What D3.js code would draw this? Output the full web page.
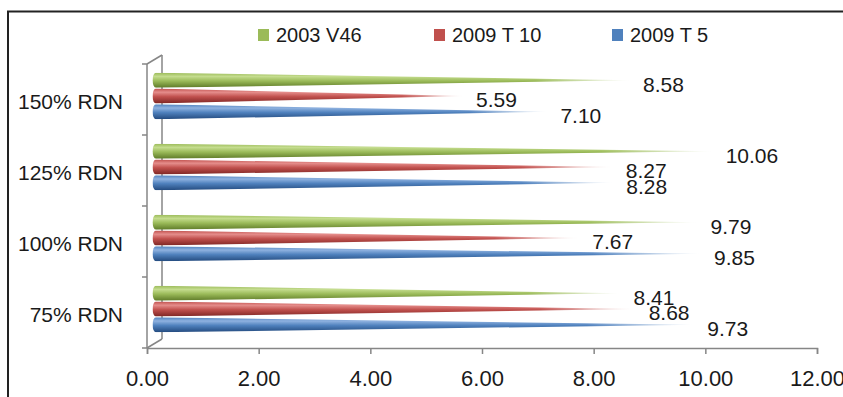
<!DOCTYPE html>
<html>
<head>
<meta charset="utf-8">
<script src="https://cdn.jsdelivr.net/npm/d3@7"></script>
<style>
  body { margin: 0; background: #fff; }
  text { font-family: "Liberation Sans", Arial, sans-serif; fill: #1a1a1a; }
</style>
</head>
<body>
<div id="chart"></div>
<script>
const categories = ["150% RDN", "125% RDN", "100% RDN", "75% RDN"];
const seriesNames = ["2003 V46", "2009 T 10", "2009 T 5"];
const v46 = [8.58, 10.06, 9.79, 8.41];
const t10 = [5.59, 8.27, 7.67, 8.68];
const t5 = [7.10, 8.28, 9.85, 9.73];
const xTicks = [0, 2, 4, 6, 8, 10, 12];

const seriesValues = [v46, t10, t5];
const colors = [
    { light: "#c4dc8e", mid: "#9bbb59", dark: "#5e7a28" },
    { light: "#e58d8b", mid: "#c0504d", dark: "#7e2624" },
    { light: "#8fb2e0", mid: "#4f81bd", dark: "#234a7e" }
];

const W = 843, H = 397;
const depthX = 15, depthY = -9;

const svg = d3.select("#chart").append("svg")
    .attr("width", W)
    .attr("height", H);

// outer chart border (runs off the right / bottom)
svg.append("rect")
    .attr("x", 8).attr("y", 11.5)
    .attr("width", 900).attr("height", 500)
    .attr("fill", "none")
    .attr("stroke", "#222")
    .attr("stroke-width", 2);

const x = d3.scaleLinear().domain([0, 12]).range([147, 817]);
const y0 = d3.scaleBand().domain(categories).range([64, 348]);
const y1 = d3.scaleBand().domain(seriesNames)
    .range([0, y0.bandwidth()])
    .paddingOuter(0.75);

const defs = svg.append("defs");
colors.forEach((c, i) => {
    const g = defs.append("linearGradient")
        .attr("id", "grad" + i)
        .attr("x1", 0).attr("y1", 0).attr("x2", 0).attr("y2", 1);
    g.append("stop").attr("offset", "0%").attr("stop-color", c.mid);
    g.append("stop").attr("offset", "25%").attr("stop-color", c.light);
    g.append("stop").attr("offset", "55%").attr("stop-color", c.mid);
    g.append("stop").attr("offset", "100%").attr("stop-color", c.dark);
});
const fade = defs.append("linearGradient").attr("id", "fade");
fade.append("stop").attr("offset", "0%").attr("stop-color", "#fff");
fade.append("stop").attr("offset", "80%").attr("stop-color", "#fff");
fade.append("stop").attr("offset", "100%").attr("stop-color", "#000");
defs.append("mask")
    .attr("id", "tipFade")
    .attr("maskContentUnits", "objectBoundingBox")
    .append("rect")
    .attr("width", 1).attr("height", 1)
    .attr("fill", "url(#fade)");

// 3D walls
const axisColor = "#868686";
const walls = svg.append("g").attr("stroke", axisColor).attr("stroke-width", 1.5).attr("fill", "none");
walls.append("line")
    .attr("x1", x(0) + depthX).attr("x2", x(0) + depthX)
    .attr("y1", 64 + depthY).attr("y2", 348 + depthY);
walls.append("line")
    .attr("x1", x(0)).attr("x2", x(0) + depthX)
    .attr("y1", 64).attr("y2", 64 + depthY);
walls.append("line")
    .attr("x1", x(0)).attr("x2", x(0) + depthX)
    .attr("y1", 348).attr("y2", 348 + depthY);
walls.append("line")
    .attr("x1", x(0)).attr("x2", x(0))
    .attr("y1", 64).attr("y2", 348);

// category ticks
const bounds = categories.map(c => y0(c)).concat([y0.range()[1]]);
walls.selectAll(".ctick")
    .data(bounds)
    .enter()
    .append("line")
    .attr("x1", x(0) - 5).attr("x2", x(0))
    .attr("y1", d => d).attr("y2", d => d);

svg.selectAll(".cat")
    .data(categories)
    .enter()
    .append("text")
    .attr("x", 123)
    .attr("y", d => y0(d) + y0.bandwidth() / 2 + 2)
    .attr("dy", "0.35em")
    .attr("text-anchor", "end")
    .style("font-size", "21px")
    .text(d => d);

// x axis
const xAxis = svg.append("g")
    .attr("transform", "translate(0,348)")
    .call(d3.axisBottom(x).tickValues(xTicks).tickSize(6).tickPadding(16).tickFormat(d3.format(".2f")));
xAxis.select(".domain").attr("stroke", axisColor).attr("stroke-width", 1.5);
xAxis.selectAll(".tick line").attr("stroke", axisColor).attr("stroke-width", 1.5);
xAxis.selectAll(".tick text")
    .style("font-size", "22px")
    .style("font-family", "Liberation Sans, Arial, sans-serif")
    .attr("fill", "#1a1a1a");

// cones
const r = 7.5;
const shiftX = 7, shiftY = -3.5;
seriesNames.forEach((s, i) => {
    const g = svg.append("g");
    g.selectAll("path")
        .data(seriesValues[i])
        .enter()
        .append("path")
        .attr("d", (v, j) => {
            const cy = y0(categories[j]) + y1(s) + y1.bandwidth() / 2 + shiftY;
            const bx = x(0) + 9;
            const tx = x(v) + shiftX - 2;
            return `M${bx},${cy - r} L${tx},${cy} L${bx},${cy + r} A3.5,${r} 0 0 1 ${bx},${cy - r} Z`;
        })
        .attr("fill", `url(#grad${i})`)
        .attr("mask", "url(#tipFade)");

    g.selectAll("text")
        .data(seriesValues[i])
        .enter()
        .append("text")
        .attr("x", v => x(v) + 17)
        .attr("y", (v, j) => y0(categories[j]) + y1(s) + y1.bandwidth() / 2 + shiftY + 4)
        .attr("dy", "0.35em")
        .style("font-size", "21px")
        .text(v => v.toFixed(2));
});

// legend
const legendX = [258, 434, 612];
const legend = svg.append("g");
seriesNames.forEach((s, i) => {
    legend.append("rect")
        .attr("x", legendX[i]).attr("y", 29)
        .attr("width", 11).attr("height", 12)
        .attr("fill", colors[i].mid);
    legend.append("text")
        .attr("x", legendX[i] + 18)
        .attr("y", 35)
        .attr("dy", "0.35em")
        .style("font-size", "20px")
        .text(s);
});
</script>
</body>
</html>
